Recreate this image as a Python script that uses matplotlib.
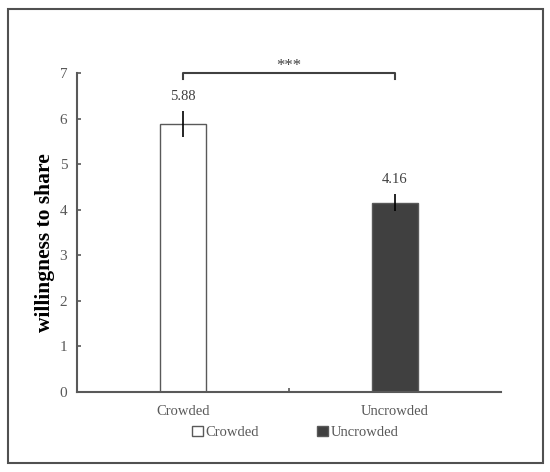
import matplotlib.pyplot as plt
from matplotlib.patches import Rectangle

plt.rcParams['font.family'] = ['Liberation Serif', 'DejaVu Serif']

categories = ['Crowded', 'Uncrowded']
means = [5.88, 4.16]
errors = [0.29, 0.18]
value_labels = ['5.88', '4.16']
fills = ['white', '#404040']
significance = '***'

fig = plt.figure(figsize=(5.5, 4.72), dpi=100)
ax = fig.add_axes([0.14, 0.1695, 0.771, 0.6755])

grey = '#595959'
x = [0.5, 1.5]
ax.bar(x, means, width=0.22, color=fills, edgecolor=grey, linewidth=1.0)
ax.errorbar(x, means, yerr=errors, fmt='none', ecolor='black', elinewidth=1.2, capsize=0)
for xi, m, e, lab in zip(x, means, errors, value_labels):
    ax.text(xi, m + e + 0.18, lab, ha='center', va='bottom', fontsize=10.5, color='#404040')

# significance bracket
top = 7.0
ax.plot([x[0], x[0], x[1], x[1]], [top - 0.12, top, top, top - 0.12],
        color='#404040', lw=1.5, clip_on=False, solid_joinstyle='round')
ax.text(sum(x) / 2, top - 0.02, significance, ha='center', va='bottom', fontsize=12, color='#404040')

ax.set_xlim(0, 2)
ax.set_ylim(0, 7)
ax.set_xticks([1])
ax.set_xticklabels([])
ax.tick_params(axis='x', direction='in', length=3, width=1.2, color=grey)
ax.tick_params(axis='y', direction='in', length=3, width=1.2, color=grey,
               labelsize=11, labelcolor='#595959', pad=7)
for xi, c in zip(x, categories):
    ax.text(xi, -0.28, c, ha='center', va='top', fontsize=10.5, color='#595959',
            transform=ax.transData)
for s in ['top', 'right']:
    ax.spines[s].set_visible(False)
for s in ['left', 'bottom']:
    ax.spines[s].set_color(grey)
    ax.spines[s].set_linewidth(1.5)
ax.set_ylabel('willingness to share', fontsize=15.5, fontweight='bold')
ax.yaxis.set_label_coords(-0.053, 0.47)

# legend below the axes
handles = [Rectangle((0, 0), 1, 1, facecolor=f, edgecolor=grey, linewidth=1.0) for f in fills]
fig.legend(handles, categories, loc='center', bbox_to_anchor=(0.537, 0.083), ncol=2,
           frameon=False, fontsize=10.5, handlelength=0.7, handleheight=0.7,
           handletextpad=0.2, columnspacing=4.0, labelcolor='#595959')

# outer frame
fig.patches.append(Rectangle((8 / 550, 9 / 472), 535 / 550, 454 / 472, transform=fig.transFigure,
                             fill=False, edgecolor='#505050', linewidth=1.5))

fig.savefig('out.png', dpi=100)
